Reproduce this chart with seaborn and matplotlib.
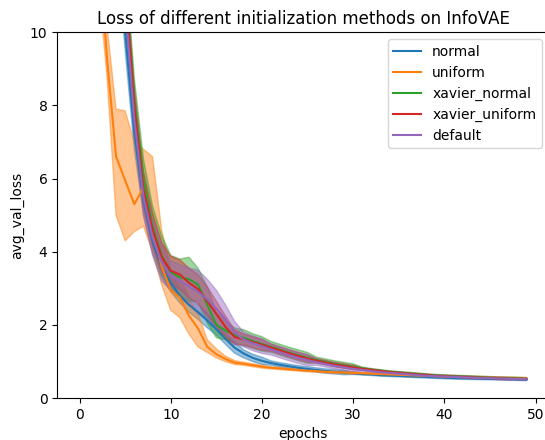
import matplotlib
matplotlib.use("Agg")
import matplotlib.pyplot as plt
import pandas as pd
import seaborn as sns

epochs = list(range(50))
methods = ["normal", "uniform", "xavier_normal", "xavier_uniform", "default"]

# median line and band edges
normal_mid = [45, 30, 22, 17, 13.5, 10.0, 7.25, 5.4, 4.3, 3.6, 3.15, 2.8, 2.55, 2.35, 2.12, 1.88, 1.62, 1.38, 1.22, 1.1,
              1.02, 0.96, 0.91, 0.87, 0.83, 0.8, 0.77, 0.74, 0.72, 0.70, 0.68, 0.66, 0.65, 0.63, 0.62, 0.61, 0.60, 0.59, 0.58, 0.57,
              0.56, 0.55, 0.545, 0.54, 0.535, 0.53, 0.525, 0.52, 0.515, 0.51]
normal_lo = [44, 29, 21, 16, 12.5, 9.5, 6.8, 5.0, 3.95, 3.3, 2.9, 2.6, 2.35, 2.15, 1.92, 1.73, 1.47, 1.23, 1.1, 1.0,
             0.92, 0.90, 0.85, 0.81, 0.77, 0.74, 0.71, 0.68, 0.66, 0.64, 0.65, 0.63, 0.62, 0.60, 0.59, 0.58, 0.57, 0.56, 0.55, 0.54,
             0.53, 0.52, 0.515, 0.51, 0.505, 0.50, 0.495, 0.49, 0.485, 0.48]
normal_hi = [46, 31, 23, 18, 14.5, 10.5, 7.7, 5.8, 4.65, 3.9, 3.4, 3.0, 2.75, 2.55, 2.32, 2.03, 1.77, 1.53, 1.32, 1.2,
             1.12, 1.02, 0.97, 0.93, 0.89, 0.86, 0.83, 0.80, 0.78, 0.76, 0.71, 0.69, 0.68, 0.66, 0.65, 0.64, 0.63, 0.62, 0.61, 0.60,
             0.59, 0.58, 0.575, 0.57, 0.565, 0.56, 0.555, 0.55, 0.545, 0.54]

uniform_mid = [40, 20, 12.8, 9.3, 6.6, 5.95, 5.3, 5.75, 4.6, 3.6, 2.95, 2.75, 2.25, 1.9, 1.4, 1.2, 1.07, 0.97, 0.94, 0.9,
               0.86, 0.83, 0.81, 0.79, 0.77, 0.75, 0.74, 0.72, 0.71, 0.70, 0.69, 0.68, 0.67, 0.66, 0.65, 0.64, 0.63, 0.62, 0.61, 0.60,
               0.59, 0.58, 0.575, 0.57, 0.565, 0.56, 0.555, 0.55, 0.545, 0.54]
uniform_lo = [38, 18, 11.5, 8.8, 5.0, 4.3, 4.55, 4.7, 4.0, 3.1, 2.4, 2.2, 1.75, 1.4, 1.25, 1.1, 1.0, 0.92, 0.90, 0.86,
              0.82, 0.80, 0.78, 0.76, 0.74, 0.72, 0.71, 0.69, 0.68, 0.67, 0.66, 0.65, 0.64, 0.63, 0.62, 0.61, 0.60, 0.59, 0.58, 0.57,
              0.56, 0.55, 0.545, 0.54, 0.535, 0.53, 0.525, 0.52, 0.515, 0.51]
uniform_hi = [42, 22, 14, 10.2, 7.9, 7.85, 7.0, 6.8, 6.6, 4.6, 3.5, 3.3, 2.75, 2.3, 1.6, 1.35, 1.15, 1.03, 0.98, 0.94,
              0.90, 0.86, 0.84, 0.82, 0.80, 0.78, 0.77, 0.75, 0.74, 0.73, 0.72, 0.71, 0.70, 0.69, 0.68, 0.67, 0.66, 0.65, 0.64, 0.63,
              0.62, 0.61, 0.605, 0.60, 0.595, 0.59, 0.585, 0.58, 0.575, 0.57]

xnormal_mid = [46, 31, 23, 18, 14.5, 11.5, 8.2, 6.0, 4.7, 3.9, 3.45, 3.3, 3.25, 3.1, 2.55, 2.0, 1.85, 1.72, 1.65, 1.56,
               1.48, 1.4, 1.32, 1.24, 1.17, 1.1, 1.04, 0.99, 0.94, 0.9, 0.86, 0.82, 0.78, 0.75, 0.72, 0.70, 0.68, 0.66, 0.64, 0.62,
               0.61, 0.60, 0.59, 0.58, 0.57, 0.56, 0.55, 0.545, 0.54, 0.53]
xnormal_lo = [45, 30, 22, 17, 13.5, 10.95, 7.65, 5.45, 4.15, 3.35, 3.0, 2.8, 2.65, 2.65, 2.05, 1.65, 1.6, 1.52, 1.43, 1.36,
              1.28, 1.25, 1.17, 1.09, 1.02, 0.95, 0.96, 0.91, 0.86, 0.82, 0.78, 0.79, 0.75, 0.72, 0.69, 0.67, 0.65, 0.63, 0.61, 0.59,
              0.58, 0.57, 0.56, 0.55, 0.54, 0.53, 0.52, 0.515, 0.51, 0.50]
xnormal_hi = [47, 32, 24, 19, 15.5, 12.05, 8.75, 6.55, 5.25, 4.45, 3.9, 3.8, 3.85, 3.55, 3.05, 2.35, 2.1, 1.92, 1.87, 1.76,
              1.68, 1.55, 1.47, 1.39, 1.32, 1.25, 1.12, 1.07, 1.02, 0.98, 0.94, 0.85, 0.81, 0.78, 0.75, 0.73, 0.71, 0.69, 0.67, 0.65,
              0.64, 0.63, 0.62, 0.61, 0.60, 0.59, 0.58, 0.575, 0.57, 0.56]

xuniform_mid = [45, 30, 22, 17.5, 14, 11.3, 8.0, 5.7, 4.6, 3.85, 3.48, 3.38, 3.15, 2.98, 2.65, 2.3, 1.95, 1.67, 1.6, 1.53,
                1.46, 1.38, 1.3, 1.22, 1.15, 1.08, 1.02, 0.97, 0.92, 0.88, 0.84, 0.8, 0.77, 0.74, 0.71, 0.69, 0.67, 0.65, 0.63, 0.61,
                0.6, 0.59, 0.58, 0.57, 0.56, 0.55, 0.54, 0.535, 0.53, 0.525]
xuniform_lo = [44, 29, 21, 16.5, 13, 10.8, 7.5, 5.2, 4.15, 3.45, 3.08, 2.98, 2.75, 2.58, 2.25, 1.95, 1.65, 1.47, 1.45, 1.38,
               1.31, 1.28, 1.2, 1.12, 1.05, 0.98, 0.96, 0.91, 0.86, 0.82, 0.78, 0.77, 0.74, 0.71, 0.68, 0.66, 0.64, 0.62, 0.60, 0.58,
               0.57, 0.56, 0.55, 0.54, 0.53, 0.52, 0.51, 0.505, 0.50, 0.495]
xuniform_hi = [46, 31, 23, 18.5, 15, 11.8, 8.5, 6.2, 5.05, 4.25, 3.88, 3.78, 3.55, 3.38, 3.05, 2.65, 2.25, 1.87, 1.75, 1.68,
               1.61, 1.48, 1.4, 1.32, 1.25, 1.18, 1.08, 1.03, 0.98, 0.94, 0.90, 0.83, 0.80, 0.77, 0.74, 0.72, 0.70, 0.68, 0.66, 0.64,
               0.63, 0.62, 0.61, 0.60, 0.59, 0.58, 0.57, 0.565, 0.56, 0.555]

default_mid = [45, 30, 22, 17, 14, 10.8, 7.6, 5.5, 4.4, 3.7, 3.35, 3.2, 3.05, 2.9, 2.7, 2.45, 2.15, 1.8, 1.6, 1.5,
               1.42, 1.33, 1.25, 1.17, 1.1, 1.04, 0.98, 0.93, 0.88, 0.84, 0.8, 0.77, 0.74, 0.71, 0.69, 0.67, 0.65, 0.63, 0.61, 0.6,
               0.59, 0.58, 0.57, 0.56, 0.55, 0.545, 0.54, 0.53, 0.525, 0.52]
default_lo = [44, 29, 21, 16, 13, 10.3, 7.1, 5.0, 3.9, 3.2, 2.95, 2.75, 2.55, 2.3, 2.15, 1.95, 1.75, 1.5, 1.4, 1.3,
              1.22, 1.18, 1.1, 1.02, 0.95, 0.89, 0.90, 0.85, 0.80, 0.76, 0.72, 0.74, 0.71, 0.68, 0.66, 0.64, 0.62, 0.60, 0.58, 0.57,
              0.56, 0.55, 0.54, 0.53, 0.52, 0.515, 0.51, 0.50, 0.495, 0.49]
default_hi = [46, 31, 23, 18, 15, 11.3, 8.1, 6.0, 4.9, 4.2, 3.75, 3.65, 3.55, 3.5, 3.25, 2.95, 2.55, 2.1, 1.8, 1.7,
              1.62, 1.48, 1.4, 1.32, 1.25, 1.19, 1.06, 1.01, 0.96, 0.92, 0.88, 0.80, 0.77, 0.74, 0.72, 0.70, 0.68, 0.66, 0.64, 0.63,
              0.62, 0.61, 0.60, 0.59, 0.58, 0.575, 0.57, 0.56, 0.555, 0.55]

runs = {
    "normal": (normal_lo, normal_mid, normal_hi),
    "uniform": (uniform_lo, uniform_mid, uniform_hi),
    "xavier_normal": (xnormal_lo, xnormal_mid, xnormal_hi),
    "xavier_uniform": (xuniform_lo, xuniform_mid, xuniform_hi),
    "default": (default_lo, default_mid, default_hi),
}

rows = []
for m in methods:
    for series in runs[m]:
        for e, v in zip(epochs, series):
            rows.append({"epochs": e, "avg_val_loss": v, "method": m})
df = pd.DataFrame(rows)

fig = plt.figure(figsize=(5.45, 4.4), dpi=100)
ax = fig.add_axes([0.105, 0.095, 0.902, 0.832])

sns.lineplot(data=df, x="epochs", y="avg_val_loss", hue="method", hue_order=methods,
             estimator="median", errorbar=("pi", 100), err_kws={"alpha": 0.45}, ax=ax)

ax.set_ylim(0, 10)
ax.set_title("Loss of different initialization methods on InfoVAE")
sns.move_legend(ax, "upper right", title=None)

fig.savefig("out.png", dpi=100)
